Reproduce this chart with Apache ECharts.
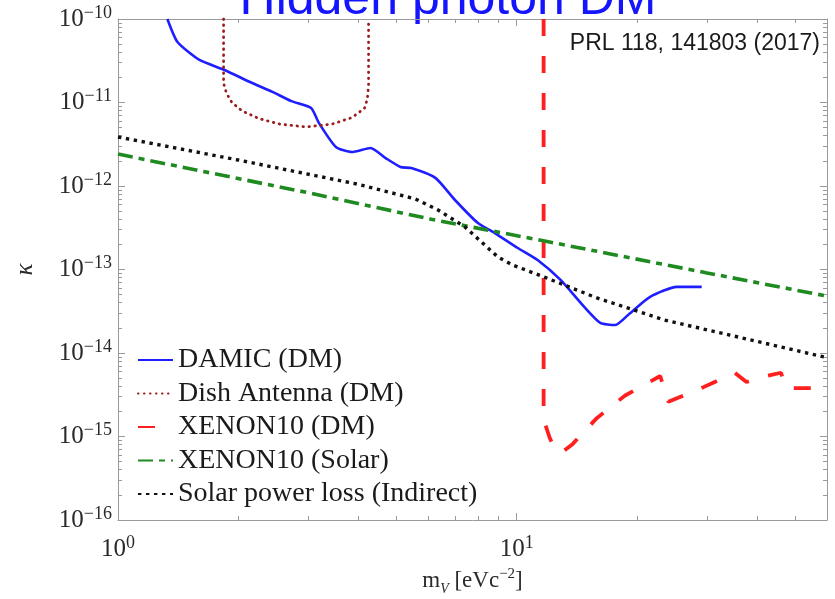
<!DOCTYPE html>
<html>
<head>
<meta charset="utf-8">
<title>Hidden photon DM</title>
<script src="https://cdn.jsdelivr.net/npm/echarts@6/dist/echarts.min.js"></script>
<style>
  html, body { margin: 0; padding: 0; background: #ffffff; }
  #chart { width: 835px; height: 599px; }
</style>
</head>
<body>
<div id="chart"></div>
<script>
// Hidden-photon kinetic mixing limits, kappa vs. mass m_V (eV/c^2)

const seriesNames = [
  'DAMIC (DM)',
  'Dish Antenna (DM)',
  'XENON10 (DM)',
  'XENON10 (Solar)',
  'Solar power loss (Indirect)'
];

// [m_V, kappa] pairs
const damic = [
  [1.33, 1.0e-10], [1.41, 5.3e-11], [1.60, 3.23e-11], [1.85, 2.45e-11],
  [2.17, 1.71e-11], [2.44, 1.34e-11], [2.72, 1.04e-11], [3.05, 8.6e-12],
  [3.19, 5.7e-12], [3.52, 2.93e-12], [3.86, 2.55e-12], [4.30, 2.85e-12],
  [4.69, 2.16e-12], [5.11, 1.69e-12], [5.44, 1.64e-12], [6.25, 1.25e-12],
  [7.00, 6.8e-13], [7.99, 3.6e-13], [8.81, 2.73e-13], [10.06, 1.81e-13],
  [11.28, 1.30e-13], [12.88, 7.5e-14], [14.77, 3.56e-14], [16.20, 2.29e-14],
  [17.66, 2.16e-14], [19.24, 3.0e-14], [21.60, 4.7e-14], [25.20, 6.2e-14],
  [29.10, 6.2e-14]
];

const dishAntenna = [
  [1.84, 1.0e-10], [1.84, 1.7e-11], [1.87, 1.3e-11], [1.93, 1.0e-11],
  [2.05, 7.9e-12], [2.26, 6.4e-12], [2.55, 5.5e-12], [2.96, 5.1e-12],
  [3.44, 5.5e-12], [3.86, 6.6e-12], [4.15, 8.5e-12], [4.22, 1.1e-11],
  [4.25, 1.6e-11], [4.25, 1.0e-10]
];

const xenon10DM = [
  [11.68, 1.0e-10], [11.68, 1.6e-15], [12.10, 9.6e-16], [12.40, 7.5e-16],
  [12.90, 6.3e-16], [13.80, 8.1e-16], [15.90, 1.67e-15], [18.70, 3.1e-15],
  [22.90, 5.3e-15], [24.00, 2.6e-15], [29.40, 3.9e-15], [35.20, 5.8e-15],
  [37.70, 4.5e-15], [41.50, 5.2e-15], [46.00, 5.8e-15], [47.40, 3.8e-15],
  [60.00, 3.8e-15]
];

const xenon10Solar = [
  [1, 2.41e-12], [3, 8.3e-13], [6.1, 4.0e-13], [12, 2.15e-13],
  [30, 9.1e-14], [60, 4.8e-14]
];

const solarPowerLoss = [
  [1, 3.86e-12], [2, 2.05e-12], [4, 1.05e-12], [5.57, 7.0e-13],
  [6.35, 5.16e-13], [7.42, 3.23e-13], [8.97, 1.41e-13], [9.77, 1.13e-13],
  [11.74, 8.1e-14], [15.9, 4.56e-14], [23.4, 2.49e-14], [34.2, 1.64e-14],
  [60, 8.8e-15]
];

// axis ranges and tick values
const xRange = [1, 60];
const yRange = [1e-16, 1e-10];
const xMajorTicks = [1, 10];
const xMinorTicks = [2, 3, 4, 5, 6, 7, 8, 9, 20, 30, 40, 50];
const yMajorTicks = [1e-16, 1e-15, 1e-14, 1e-13, 1e-12, 1e-11, 1e-10];
const yMinorTicks = [];
yMajorTicks.slice(0, -1).forEach(function (d) {
  for (let k = 2; k <= 9; k++) yMinorTicks.push(+(k * d).toPrecision(3));
});

const SERIF = "'Liberation Serif', 'DejaVu Serif', serif";
const SANS = "'Liberation Sans', Arial, sans-serif";
const FRAME = '#9a9a9a';
const LABEL = '#2a2a2a';

function powLabel(v) {
  const e = Math.round(Math.log10(v));
  return '{b|10}{s|' + String(e).replace('-', '\u2212') + '}';
}
const powRich = {
  b: { fontSize: 25, fontFamily: SERIF, color: LABEL, lineHeight: 30 },
  s: { fontSize: 18, fontFamily: SERIF, color: LABEL, lineHeight: 16, verticalAlign: 'top' }
};

function axisPair(kind, position, withLabels, range, major, minor) {
  const base = {
    type: 'log', logBase: 10, min: range[0], max: range[1],
    position: position, splitLine: { show: false },
    gridIndex: 0
  };
  const main = Object.assign({}, base, {
    axisLine: { show: true, lineStyle: { color: FRAME, width: 1 } },
    axisTick: { show: true, inside: true, length: 7, customValues: major,
                lineStyle: { color: FRAME, width: 1 } },
    axisLabel: withLabels
      ? { show: true, customValues: major, formatter: powLabel, rich: powRich,
          margin: kind === 'x' ? 14 : 6 }
      : { show: false }
  });
  const sub = Object.assign({}, base, {
    axisLine: { show: false },
    axisTick: { show: true, inside: true, length: 4, customValues: minor,
                lineStyle: { color: FRAME, width: 1 } },
    axisLabel: { show: false }
  });
  return [main, sub];
}

const xAxes = axisPair('x', 'bottom', true, xRange, xMajorTicks, xMinorTicks)
  .concat(axisPair('x', 'top', false, xRange, xMajorTicks, xMinorTicks));
const yAxes = axisPair('y', 'left', true, yRange, yMajorTicks, yMinorTicks)
  .concat(axisPair('y', 'right', false, yRange, yMajorTicks, yMinorTicks));

xAxes[0].name = '{m|m}{sub|V}{m| [eVc}{sup|\u22122}{m|]}';
xAxes[0].nameLocation = 'middle';
xAxes[0].nameGap = 42;
xAxes[0].nameTextStyle = {
  rich: {
    m: { fontSize: 23, fontFamily: SERIF, color: LABEL, lineHeight: 30 },
    sub: { fontSize: 14, fontFamily: SERIF, fontStyle: 'italic', color: LABEL, lineHeight: 20, verticalAlign: 'bottom' },
    sup: { fontSize: 15, fontFamily: SERIF, color: LABEL, lineHeight: 16, verticalAlign: 'top' }
  }
};
yAxes[0].name = '\u03ba';
yAxes[0].nameLocation = 'middle';
yAxes[0].nameRotate = 90;
yAxes[0].nameGap = 80;
yAxes[0].nameTextStyle = { fontSize: 25, fontFamily: SERIF, fontStyle: 'italic', color: LABEL };

function lineSeries(name, data, color, width, dash, cap, smooth) {
  return {
    name: name, type: 'line', data: data,
    xAxisIndex: 0, yAxisIndex: 0,
    symbol: 'none', smooth: smooth || false,
    clip: true, animation: false,
    lineStyle: { color: color, width: width, type: dash, cap: cap },
    itemStyle: { color: color }
  };
}

const chart = echarts.init(document.getElementById('chart'), null, { renderer: 'canvas' });
chart.setOption({
  animation: false,
  backgroundColor: '#ffffff',
  grid: { left: 118, right: 8, top: 19, bottom: 79, containLabel: false, outerBoundsMode: 'none' },
  xAxis: xAxes,
  yAxis: yAxes,
  legend: {
    orient: 'vertical', left: 137, top: 345, padding: 0,
    itemWidth: 35, itemHeight: 14, itemGap: 3.5,
    data: seriesNames,
    itemStyle: { opacity: 0 },
    textStyle: { fontSize: 28, fontFamily: SERIF, color: '#1a1a1a', lineHeight: 30 }
  },
  graphic: [
    {
      type: 'text', x: 448, y: 0, silent: true,
      style: { text: 'Hidden photon DM', fill: '#1414ff', fontSize: 50,
               fontFamily: SANS, align: 'center', verticalAlign: 'middle' }
    },
    {
      type: 'text', x: 820, y: 44, silent: true,
      style: { text: 'PRL 118, 141803 (2017)', fill: '#1a1a1a', fontSize: 23,
               fontFamily: SANS, align: 'right', verticalAlign: 'middle' }
    }
  ],
  series: [
    lineSeries(seriesNames[0], damic, '#1e1eff', 2.6, 'solid', 'butt', 0.2),
    lineSeries(seriesNames[1], dishAntenna, '#9b1c1c', 2.8, [0.5, 5.5], 'round'),
    lineSeries(seriesNames[2], xenon10DM, '#ff1f1f', 3.8, [17, 20], 'butt'),
    lineSeries(seriesNames[3], xenon10Solar, '#1f8a1f', 3.6, [15, 6, 6, 6], 'butt'),
    lineSeries(seriesNames[4], solarPowerLoss, '#111111', 3.4, [3.4, 4.6], 'butt')
  ]
});
</script>
</body>
</html>
